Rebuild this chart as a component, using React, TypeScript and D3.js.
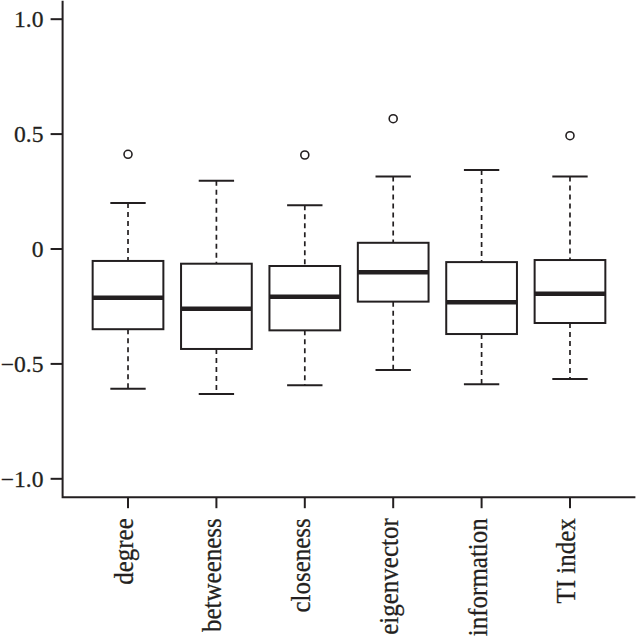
import React from "react";
import * as d3 from "d3";

const categories = ["degree", "betweeness", "closeness", "eigenvector", "information", "TI index"];
const lowerWhisker = [-0.608, -0.631, -0.593, -0.527, -0.589, -0.566];
const q1 = [-0.349, -0.435, -0.354, -0.229, -0.37, -0.322];
const median = [-0.212, -0.26, -0.208, -0.101, -0.232, -0.195];
const q3 = [-0.052, -0.064, -0.074, 0.027, -0.057, -0.048];
const upperWhisker = [0.2, 0.297, 0.19, 0.316, 0.344, 0.316];
const outliers: number[][] = [[0.412], [], [0.409], [0.567], [], [0.493]];
const yTicks = [-1, -0.5, 0, 0.5, 1];
const yTickLabels = ["\u22121.0", "\u22120.5", "0", "0.5", "1.0"];

const W = 636;
const H = 636;
const INK = "#231f20";
const FONT = "Liberation Serif, serif";

export default function App() {
  const x = d3.scaleLinear().domain([0.26, 6.74]).range([62.6, 635.4]);
  const y = d3.scaleLinear().domain([-1.08, 1.08]).range([497.2, 0.8]);
  const unit = x(2) - x(1);
  const boxW = 0.8 * unit;
  const capW = 0.4 * unit;

  return (
    <svg
      width={W}
      height={H}
      viewBox={`0 0 ${W} ${H}`}
      style={{ position: "absolute", left: 0, top: 0, display: "block", background: "#fff" }}
    >
      <rect x={0} y={0} width={W} height={H} fill="#fff" />
      {categories.map((c, i) => {
        const cx = x(i + 1);
        return (
          <g key={c}>
            <line x1={cx} x2={cx} y1={y(upperWhisker[i])} y2={y(q3[i])} stroke={INK} strokeWidth={1.7} strokeDasharray="5,4" />
            <line x1={cx} x2={cx} y1={y(q1[i])} y2={y(lowerWhisker[i])} stroke={INK} strokeWidth={1.7} strokeDasharray="5,4" />
            <line x1={cx - capW / 2} x2={cx + capW / 2} y1={y(upperWhisker[i])} y2={y(upperWhisker[i])} stroke={INK} strokeWidth={2} />
            <line x1={cx - capW / 2} x2={cx + capW / 2} y1={y(lowerWhisker[i])} y2={y(lowerWhisker[i])} stroke={INK} strokeWidth={2} />
            <rect
              x={cx - boxW / 2}
              y={y(q3[i])}
              width={boxW}
              height={y(q1[i]) - y(q3[i])}
              fill="#fff"
              stroke={INK}
              strokeWidth={2}
            />
            <line x1={cx - boxW / 2} x2={cx + boxW / 2} y1={y(median[i])} y2={y(median[i])} stroke={INK} strokeWidth={4.4} />
            {outliers[i].map((o, j) => (
              <circle key={j} cx={cx} cy={y(o)} r={4} fill="none" stroke={INK} strokeWidth={1.6} />
            ))}
          </g>
        );
      })}
      <path
        d={`M${x(0.26)},${y(1.08)} V${y(-1.08)} H${x(6.74)}`}
        fill="none"
        stroke={INK}
        strokeWidth={2}
      />
      {yTicks.map((t, i) => (
        <g key={t}>
          <line x1={x(0.26) - 12} x2={x(0.26)} y1={y(t)} y2={y(t)} stroke={INK} strokeWidth={2} />
          <text
            transform={`translate(43.5,${y(t)}) scale(1.05,1)`}
            dy="0.36em"
            textAnchor="end"
            fontFamily={FONT}
            fontSize={22.5}
            fill={INK}
            stroke={INK}
            strokeWidth={0.25}
          >
            {yTickLabels[i]}
          </text>
        </g>
      ))}
      {categories.map((c, i) => {
        const cx = x(i + 1);
        const y0 = y(-1.08);
        return (
          <g key={c}>
            <line x1={cx} x2={cx} y1={y0} y2={y0 + 11} stroke={INK} strokeWidth={2} />
            <text
              transform={`translate(${cx + 5},${y0 + 21}) rotate(-90) scale(1,1.12)`}
              textAnchor="end"
              fontFamily={FONT}
              fontSize={25}
              fill={INK}
              stroke={INK}
              strokeWidth={0.25}
            >
              {c}
            </text>
          </g>
        );
      })}
    </svg>
  );
}
